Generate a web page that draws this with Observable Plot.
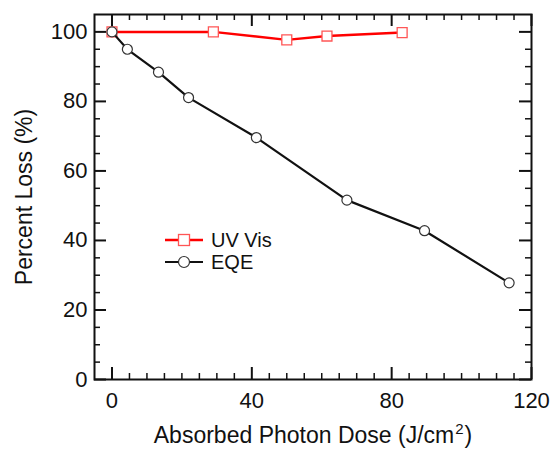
<!DOCTYPE html>
<html>
<head>
<meta charset="utf-8">
<script src="https://cdn.jsdelivr.net/npm/d3@7"></script>
<script src="https://cdn.jsdelivr.net/npm/@observablehq/plot@0.6"></script>
<style>
  body { margin: 0; background: #fff; }
  #wrap { position: relative; width: 551px; height: 450px; font-family: "Liberation Sans", Arial, sans-serif; }
  #legend { position: absolute; left: 165px; top: 229px; font-size: 20px; color: #111; }
  #legend .row { display: flex; align-items: center; height: 22px; }
  #legend svg { margin-right: 8px; }
</style>
</head>
<body>
<div id="wrap"></div>
<script>
// Data
const uvDose  = [0, 29, 50, 61.5, 83];
const uvLoss  = [100, 100, 97.7, 98.8, 99.8];
const eqeDose = [0, 4.4, 13.3, 21.9, 41.3, 67.2, 89.4, 113.6];
const eqeLoss = [100, 95, 88.4, 81.1, 69.6, 51.6, 42.8, 27.8];
const seriesNames = ["UV Vis", "EQE"];

// Tick labels
const xMajor = [0, 40, 80, 120];
const yMajor = [0, 20, 40, 60, 80, 100];
const xMinor = d3.range(5, 120, 5).filter(d => !xMajor.includes(d));
const yMinor = d3.range(5, 105, 5).filter(d => !yMajor.includes(d));

const uv = uvDose.map((x, i) => ({x, y: uvLoss[i]}));
const eqe = eqeDose.map((x, i) => ({x, y: eqeLoss[i]}));

const W = 551, H = 450, mL = 94, mR = 20, mT = 14, mB = 71;
const plotH = H - mT - mB, plotW = W - mL - mR;
const ink = "#111";

const chart = Plot.plot({
  width: W, height: H,
  marginLeft: mL, marginRight: mR, marginTop: mT, marginBottom: mB,
  x: {domain: [-5, 120]},
  y: {domain: [0, 105]},
  style: {fontFamily: "'Liberation Sans', Arial, sans-serif", fontSize: "22px", color: ink, background: "white"},
  marks: [
    Plot.axisX(xMajor, {tickSize: 0, tickPadding: 13, label: "Absorbed Photon Dose (J/cm2)", labelAnchor: "center", labelArrow: "none", labelOffset: 63, fill: ink}),
    Plot.axisY(yMajor, {tickSize: 0, tickPadding: 7, label: "Percent Loss (%)", labelAnchor: "center", labelArrow: "none", labelOffset: 79, fill: ink}),
    // inward ticks: bottom & top
    Plot.tickX(xMajor, {x: d => d, insetTop: plotH - 12, stroke: ink, strokeWidth: 2}),
    Plot.tickX(xMajor, {x: d => d, insetBottom: plotH - 12, stroke: ink, strokeWidth: 2}),
    Plot.tickX(xMinor, {x: d => d, insetTop: plotH - 6, stroke: ink, strokeWidth: 1.5}),
    Plot.tickX(xMinor, {x: d => d, insetBottom: plotH - 6, stroke: ink, strokeWidth: 1.5}),
    // inward ticks: left & right
    Plot.tickY(yMajor, {y: d => d, insetRight: plotW - 12, stroke: ink, strokeWidth: 2}),
    Plot.tickY(yMajor, {y: d => d, insetLeft: plotW - 12, stroke: ink, strokeWidth: 2}),
    Plot.tickY(yMinor, {y: d => d, insetRight: plotW - 6, stroke: ink, strokeWidth: 1.5}),
    Plot.tickY(yMinor, {y: d => d, insetLeft: plotW - 6, stroke: ink, strokeWidth: 1.5}),
    Plot.frame({stroke: ink, strokeWidth: 2}),
    Plot.line(uv, {x: "x", y: "y", stroke: "#ff0000", strokeWidth: 2.5}),
    Plot.dot(uv, {x: "x", y: "y", symbol: "square", r: 5.6, stroke: "#ff5555", fill: "white", strokeWidth: 1.3}),
    Plot.line(eqe, {x: "x", y: "y", stroke: ink, strokeWidth: 2.2}),
    Plot.dot(eqe, {x: "x", y: "y", symbol: "circle", r: 5, stroke: "#333", fill: "white", strokeWidth: 1.2})
  ]
});

// Axis titles: slightly larger, with a real superscript for cm²
const xl = chart.querySelector('[aria-label="x-axis label"] text');
if (xl) {
  xl.setAttribute("font-size", "23");
  xl.textContent = "Absorbed Photon Dose (J/cm";
  const ns = "http://www.w3.org/2000/svg";
  const sup = document.createElementNS(ns, "tspan");
  sup.setAttribute("dy", "-0.55em");
  sup.setAttribute("dx", "1");
  sup.setAttribute("font-size", "15");
  sup.textContent = "2";
  const close = document.createElementNS(ns, "tspan");
  close.setAttribute("dy", "0.37em");
  close.setAttribute("dx", "1");
  close.textContent = ")";
  xl.appendChild(sup);
  xl.appendChild(close);
}
const yl = chart.querySelector('[aria-label="y-axis label"] text');
if (yl) yl.setAttribute("font-size", "23");

const wrap = document.getElementById("wrap");
wrap.appendChild(chart);

// Legend
const legend = document.createElement("div");
legend.id = "legend";
const sq = `<svg width="38" height="20"><line x1="0" y1="10" x2="38" y2="10" stroke="#ff0000" stroke-width="2.5"/><rect x="13.5" y="4.5" width="11" height="11" fill="white" stroke="#ff5555" stroke-width="1.3"/></svg>`;
const ci = `<svg width="38" height="20"><line x1="0" y1="10" x2="38" y2="10" stroke="${ink}" stroke-width="2.2"/><circle cx="19" cy="10" r="5.5" fill="white" stroke="#333" stroke-width="1.2"/></svg>`;
legend.innerHTML = `<div class="row">${sq}<span>${seriesNames[0]}</span></div><div class="row">${ci}<span>${seriesNames[1]}</span></div>`;
wrap.appendChild(legend);
</script>
</body>
</html>
